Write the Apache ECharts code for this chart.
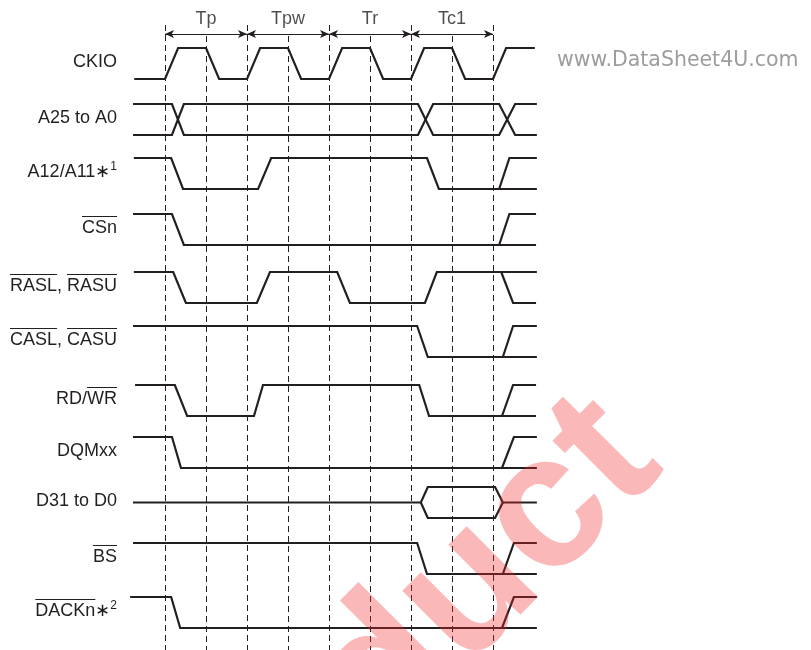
<!DOCTYPE html>
<html><head><meta charset="utf-8">
<script src="https://cdn.jsdelivr.net/npm/echarts@6/dist/echarts.min.js"></script>
<style>html,body{margin:0;padding:0;background:#fff}#c{width:811px;height:650px}</style>
</head><body><div id="c"></div>
<script>
// ---------------- data ----------------
const periodLabels = ['Tp', 'Tpw', 'Tr', 'Tc1'];
const periodBounds = [0, 2, 4, 6, 8];
const periodMids = [1, 3, 5, 7];

// waveforms: time in half-cycles of CKIO, level 0 = low, 1 = high, 0.5 = bus idle
const ckio = [[[-0.75,0],[0,0],[0.32,1],[1,1],[1.32,0],[2,0],[2.32,1],[3,1],[3.32,0],[4,0],[4.32,1],[5,1],[5.32,0],[6,0],[6.32,1],[7,1],[7.32,0],[8,0],[8.32,1],[9.02,1]]];
const addrBus = [[[-0.78,1],[0.17,1],[0.46,0],[6.17,0],[6.54,1],[8.15,1],[8.54,0],[9.07,0]],
                 [[-0.78,0],[0.17,0],[0.46,1],[6.17,1],[6.54,0],[8.15,0],[8.54,1],[9.07,1]]];
const a12 = [[[-0.76,1],[0.15,1],[0.44,0],[2.27,0],[2.59,1],[6.39,1],[6.68,0],[8.15,0],[8.4,1],[9.07,1]],[[8.15,0],[9.07,0]]];
const csn = [[[-0.78,1],[0.17,1],[0.46,0],[8.15,0],[8.4,1],[9.05,1]],[[8.15,0],[9.05,0]]];
const rasl = [[[-0.76,1],[0.2,1],[0.51,0],[2.24,0],[2.56,1],[4.2,1],[4.51,0],[6.34,0],[6.63,1],[9.07,1]],[[8.2,1],[8.49,0],[9.05,0]]];
const casl = [[[-0.78,1],[6.15,1],[6.41,0],[8.24,0],[8.49,1],[9.07,1]],[[8.24,0],[9.07,0]]];
const rdwr = [[[-0.73,1],[0.24,1],[0.54,0],[2.17,0],[2.39,1],[6.2,1],[6.44,0],[8.22,0],[8.49,1],[9.05,1]],[[8.22,0],[9.05,0]]];
const dqm = [[[-0.78,1],[0.17,1],[0.39,0],[8.22,0],[8.51,1],[9.07,1]],[[8.22,0],[9.07,0]]];
const dataBus = [[[-0.78,0.5],[6.24,0.5],[6.41,1],[8.05,1],[8.24,0.5],[9.07,0.5]],[[6.24,0.5],[6.41,0],[8.05,0],[8.24,0.5]]];
const bs = [[[-0.78,1],[6.15,1],[6.39,0],[8.24,0],[8.51,1],[9.07,1]],[[8.24,0],[9.07,0]]];
const dack = [[[-0.85,1],[0.15,1],[0.37,0],[8.22,0],[8.51,1],[9.07,1]],[[8.22,0],[9.07,0]]];

const signals = [ckio, addrBus, a12, csn, rasl, casl, rdwr, dqm, dataBus, bs, dack];

// signal names (o = overline, sup = superscript)
const signalLabels = [
  [{t:'CKIO'}],
  [{t:'A25 to A0'}],
  [{t:'A12/A11'},{t:'\u2217'},{t:'1',sup:true}],
  [{t:'CSn',o:true}],
  [{t:'RASL',o:true},{t:', '},{t:'RASU',o:true}],
  [{t:'CASL',o:true},{t:', '},{t:'CASU',o:true}],
  [{t:'RD/'},{t:'WR',o:true}],
  [{t:'DQMxx'}],
  [{t:'D31 to D0'}],
  [{t:'BS',o:true}],
  [{t:'DACKn',o:true},{t:'\u2217'},{t:'2',sup:true}]
];

// ---------------- layout ----------------
const rowLow = [79,135,189,245,303,357,416,468,518,574,628];
const AMP = 31;
const INK = '#231f20';
const FONT = '"Liberation Sans", Arial, Helvetica, sans-serif';
const FS = 18;
const LABEL_RIGHT = 117;

const chart = echarts.init(document.getElementById('c'), null, {renderer:'canvas'});

const series = [];
signals.forEach((sig, i) => {
  sig.forEach(poly => {
    series.push({
      type:'line', silent:true, animation:false, symbol:'none', z:3,
      data: poly.map(p => [p[0], rowLow[i] - p[1]*AMP]),
      lineStyle:{color:INK, width:2.2, join:'miter'}
    });
  });
});

// dashed reference lines and period arrows
const dashData = [];
periodBounds.forEach(t => dashData.push([{coord:[t,25]},{coord:[t,650]}]));
periodMids.forEach(t => dashData.push([{coord:[t,36]},{coord:[t,650]}]));
series.push({
  type:'line', silent:true, animation:false, symbol:'none', data:[[0,650]],
  lineStyle:{width:0},
  markLine:{silent:true, animation:false, symbol:['none','none'], label:{show:false},
    lineStyle:{color:INK, width:1, type:[6,4]}, data:dashData}
});
const arrowData = [];
for (let k = 0; k < periodLabels.length; k++) {
  arrowData.push([{coord:[periodBounds[k],34]},{coord:[periodBounds[k+1],34]}]);
}
series.push({
  type:'line', silent:true, animation:false, symbol:'none', data:[[0,34]],
  lineStyle:{width:0},
  markLine:{silent:true, animation:false, symbol:['arrow','arrow'], symbolSize:[6,9], label:{show:false},
    lineStyle:{color:INK, width:1, type:'solid'}, itemStyle:{color:INK}, data:arrowData}
});
// period labels
series.push({
  type:'scatter', silent:true, animation:false, symbolSize:0,
  data: periodLabels.map((s,k) => [periodMids[k], 19, s]),
  label:{show:true, position:'inside', formatter:p => p.value[2], color:INK, fontSize:FS, fontFamily:FONT}
});

// signal labels via graphic (measured to support overlines)
const ctx = document.createElement('canvas').getContext('2d');
function w(text, size){ ctx.font = size + 'px ' + FONT; return ctx.measureText(text).width; }
const graphics = [];
signalLabels.forEach((parts, i) => {
  const cy = rowLow[i] - AMP/2 - 1.5;
  const sizes = parts.map(p => p.sup ? 12 : FS);
  const widths = parts.map((p,k) => w(p.t, sizes[k]));
  let x = LABEL_RIGHT - widths.reduce((a,b)=>a+b,0);
  parts.forEach((p,k) => {
    graphics.push({type:'text', silent:true, z:10, style:{
      text:p.t, x:x, y: p.sup ? cy - 5 : cy, font: sizes[k] + 'px ' + FONT,
      fill:INK, align:'left', verticalAlign:'middle'}});
    if (p.o) {
      graphics.push({type:'line', silent:true, z:10, shape:{x1:x, y1:cy-11.5, x2:x+widths[k], y2:cy-11.5},
        style:{stroke:INK, lineWidth:1}});
    }
    x += widths[k];
  });
});
// site watermark
graphics.push({type:'text', silent:true, z:10, style:{text:'www.DataSheet4U.com', x:557, y:61,
  font:'20.5px "DejaVu Sans", sans-serif', fill:'#9d9d9d', align:'left', verticalAlign:'middle'}});
// red diagonal watermark
graphics.push({type:'text', silent:true, z:100, x:122, y:939, rotation:Math.PI/4,
  style:{text:'Product', x:0, y:0, font:'bold 190px "Liberation Sans", Arial, sans-serif',
  fill:'rgba(240,40,40,0.33)', align:'left', verticalAlign:'middle'}});

chart.setOption({
  animation:false,
  backgroundColor:'#ffffff',
  grid:{left:124, top:0, width:451, height:650},
  xAxis:{type:'value', min:-1, max:10, show:false},
  yAxis:{type:'value', min:0, max:650, inverse:true, show:false},
  series:series,
  graphic:graphics
});
</script></body></html>
